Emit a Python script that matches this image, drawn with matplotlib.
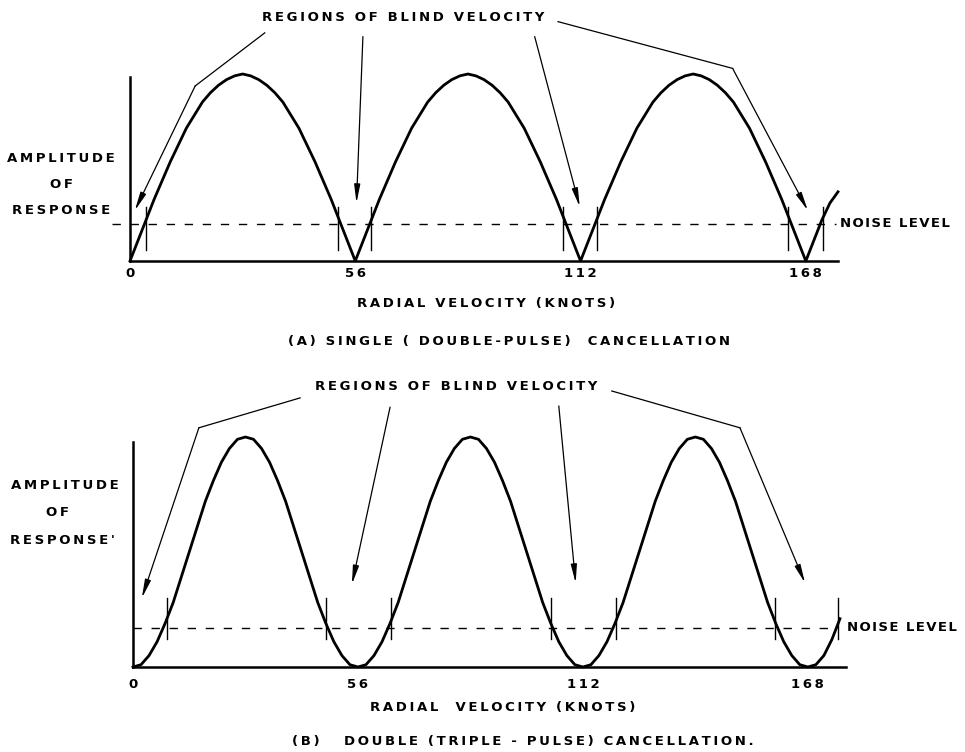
import numpy as np
import matplotlib
matplotlib.use("Agg")
from matplotlib import pyplot as plt

# radial velocity grid (knots), 2 knot steps
velocity = np.arange(0, 178, 2)

# (A) single (double-pulse) cancellation, response
single_amp = [0.00, 0.11, 0.22, 0.33, 0.43, 0.53, 0.62, 0.71, 0.78, 0.85, 0.90, 0.94, 0.97, 0.99, 1.00,
              0.99, 0.97, 0.94, 0.90, 0.85, 0.78, 0.71, 0.62, 0.53, 0.43, 0.33, 0.22, 0.11,
              0.00, 0.11, 0.22, 0.33, 0.43, 0.53, 0.62, 0.71, 0.78, 0.85, 0.90, 0.94, 0.97, 0.99, 1.00,
              0.99, 0.97, 0.94, 0.90, 0.85, 0.78, 0.71, 0.62, 0.53, 0.43, 0.33, 0.22, 0.11,
              0.00, 0.11, 0.22, 0.33, 0.43, 0.53, 0.62, 0.71, 0.78, 0.85, 0.90, 0.94, 0.97, 0.99, 1.00,
              0.99, 0.97, 0.94, 0.90, 0.85, 0.78, 0.71, 0.62, 0.53, 0.43, 0.33, 0.22, 0.11,
              0.00, 0.11, 0.22, 0.31, 0.37]

# (B) double (triple-pulse) cancellation
double_amp = [0.00, 0.01, 0.05, 0.11, 0.19, 0.28, 0.39, 0.50, 0.61, 0.72, 0.81, 0.89, 0.95, 0.99, 1.00,
              0.99, 0.95, 0.89, 0.81, 0.72, 0.61, 0.50, 0.39, 0.28, 0.19, 0.11, 0.05, 0.01,
              0.00, 0.01, 0.05, 0.11, 0.19, 0.28, 0.39, 0.50, 0.61, 0.72, 0.81, 0.89, 0.95, 0.99, 1.00,
              0.99, 0.95, 0.89, 0.81, 0.72, 0.61, 0.50, 0.39, 0.28, 0.19, 0.11, 0.05, 0.01,
              0.00, 0.01, 0.05, 0.11, 0.19, 0.28, 0.39, 0.50, 0.61, 0.72, 0.81, 0.89, 0.95, 0.99, 1.00,
              0.99, 0.95, 0.89, 0.81, 0.72, 0.61, 0.50, 0.39, 0.28, 0.19, 0.11, 0.05, 0.01,
              0.00, 0.01, 0.05, 0.12, 0.21]

blind_ticks = [0, 56, 112, 168]
noise_single = 0.20
noise_double = 0.17
# where the response crosses the noise level
cross_single = [4.0, 51.7, 59.9, 107.6, 116.0, 163.5, 172.2]
cross_double = [8.5, 48.0, 64.2, 104.0, 120.2, 159.8, 175.5]

W, H = 965, 752
FS = 9.5


def spaced(s, sep="\u2009"):
    # lettering in the original is widely spaced
    return sep.join(s)


def fig_xy(px, py):
    return px / W, 1 - py / H


plt.rcParams['font.family'] = ['DejaVu Sans']
plt.rcParams['font.weight'] = 'bold'
fig = plt.figure(figsize=(W / 100, H / 100), dpi=100)


def setup_axes(rect, xmax, ytop, pad):
    ax = fig.add_axes(rect)
    ax.set_xlim(0, xmax)
    ax.set_ylim(0, 1)
    for s in ["top", "right"]:
        ax.spines[s].set_visible(False)
    ax.spines["left"].set_linewidth(1.8)
    ax.spines["bottom"].set_linewidth(1.8)
    ax.spines["left"].set_bounds(0, ytop)
    ax.set_yticks([])
    ax.set_xticks(blind_ticks)
    ax.set_xticklabels([spaced(str(t)) for t in blind_ticks])
    ax.tick_params(axis="x", length=0, pad=pad, labelsize=FS)
    ax.patch.set_visible(False)
    return ax


def leader(ax, pts):
    # polyline leader ending in an arrow at the last point
    xs = [p[0] for p in pts]
    ys = [p[1] for p in pts]
    if len(pts) > 2:
        ax.plot(xs[:-1], ys[:-1], color="black", lw=0.9, clip_on=False)
    ax.annotate("", xy=pts[-1], xytext=pts[-2], annotation_clip=False,
                arrowprops=dict(arrowstyle="-|>,head_length=1.1,head_width=0.18",
                                color="black", lw=0.9, shrinkA=0, shrinkB=0))


def draw_panel(ax, amp, noise, crosses, tick_lo, tick_hi, dash_start):
    ax.plot(velocity, amp, color="black", lw=2.0, clip_on=False)
    ax.plot([dash_start, 175.5], [noise, noise], color="black", lw=1.0,
            linestyle=(0, (6, 7)), clip_on=False)
    for c in crosses:
        ax.plot([c, c], [tick_lo, tick_hi], color="black", lw=1.0, clip_on=False)


# ---------- (A) ----------
axA = setup_axes([130 / W, 1 - 261 / H, 708 / W, 187 / H], 176, 0.984, 4)
draw_panel(axA, single_amp, noise_single, cross_single, 0.06, 0.29, -4.5)
axA.text(68, 1.30, spaced("REGIONS OF BLIND VELOCITY"), ha="center", va="center", fontsize=FS)
leader(axA, [(33.5, 1.22), (16.2, 0.936), (1.2, 0.27)])
leader(axA, [(57.9, 1.20), (56.3, 0.31)])
leader(axA, [(100.6, 1.20), (111.8, 0.29)])
leader(axA, [(106.4, 1.28), (149.8, 1.03), (168.5, 0.27)])
axA.text(176.5, noise_single, spaced("NOISE LEVEL", "\u200a"), ha="left", va="center", fontsize=FS)

for txt, py in [("AMPLITUDE", 158), ("OF", 185), ("RESPONSE", 210)]:
    fig.text(*fig_xy(61, py), spaced(txt), ha="center", va="center", fontsize=FS)
fig.text(*fig_xy(486, 303), spaced("RADIAL VELOCITY (KNOTS)"), ha="center", va="center", fontsize=FS)
fig.text(*fig_xy(509, 342), spaced("(A) SINGLE ( DOUBLE-PULSE)  CANCELLATION"),
         ha="center", va="center", fontsize=FS)

# ---------- (B) ----------
axB = setup_axes([133 / W, 1 - 667 / H, 713 / W, 230 / H], 177.5, 0.978, 8)
draw_panel(axB, double_amp, noise_double, cross_double, 0.12, 0.30, 0)
axB.text(80.4, 1.22, spaced("REGIONS OF BLIND VELOCITY"), ha="center", va="center", fontsize=FS)
leader(axB, [(41.6, 1.17), (16.4, 1.04), (2.2, 0.30)])
leader(axB, [(64.0, 1.13), (54.5, 0.36)])
leader(axB, [(106.0, 1.135), (110.2, 0.365)])
leader(axB, [(119.2, 1.20), (151.1, 1.04), (167.3, 0.365)])
axB.text(177.8, noise_double, spaced("NOISE LEVEL", "\u200a"), ha="left", va="center", fontsize=FS)

for txt, px, py in [("AMPLITUDE", 65, 485), ("OF", 58, 512), ("RESPONSE'", 62, 540)]:
    fig.text(*fig_xy(px, py), spaced(txt), ha="center", va="center", fontsize=FS)
fig.text(*fig_xy(503, 708), spaced("RADIAL  VELOCITY (KNOTS)"), ha="center", va="center", fontsize=FS)
fig.text(*fig_xy(523, 742), spaced("(B)   DOUBLE (TRIPLE - PULSE) CANCELLATION."),
         ha="center", va="center", fontsize=FS)

fig.savefig("out.png", dpi=100, facecolor="white")
